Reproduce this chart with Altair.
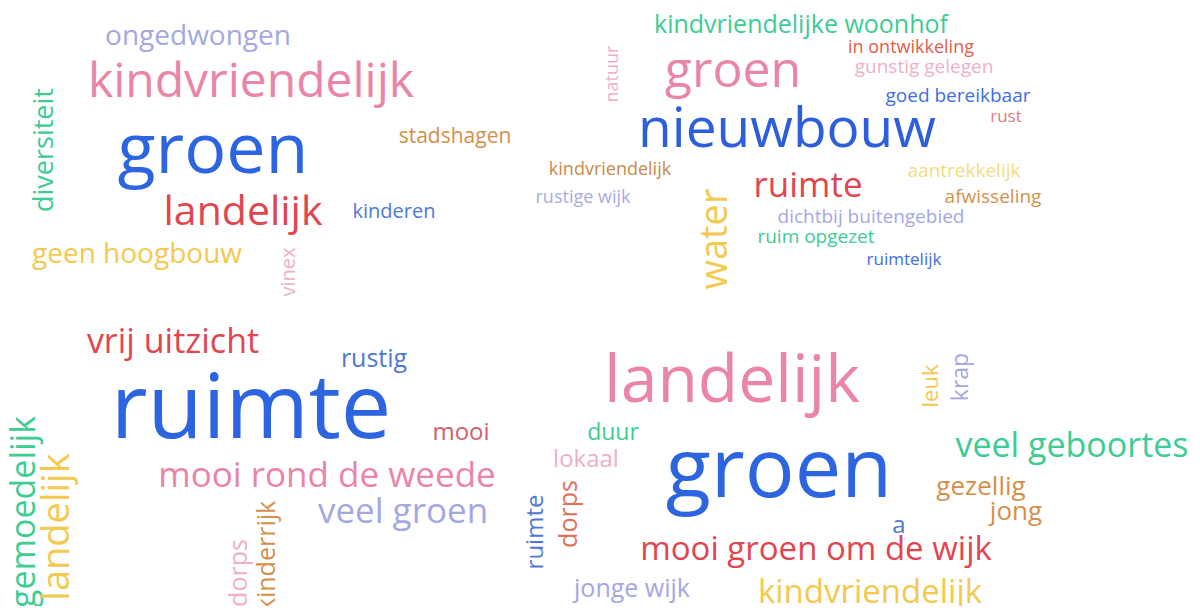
import altair as alt
import pandas as pd

# word cloud entries: text, x centre (px), baseline y (px), font size, angle, colour
words = [
    # top-left cloud
    "ongedwongen", "kindvriendelijk", "groen", "diversiteit", "stadshagen",
    "landelijk", "kinderen", "geen hoogbouw", "vinex",
    # top-right cloud
    "kindvriendelijke woonhof", "in ontwikkeling", "gunstig gelegen", "goed bereikbaar",
    "rust", "natuur", "groen", "nieuwbouw", "kindvriendelijk", "rustige wijk", "ruimte",
    "aantrekkelijk", "afwisseling", "dichtbij buitengebied", "ruim opgezet", "ruimtelijk",
    "water",
    # bottom-left cloud
    "vrij uitzicht", "rustig", "ruimte", "mooi", "mooi rond de weede", "veel groen",
    "gemoedelijk", "landelijk", "dorps", "kinderrijk",
    # bottom-right cloud
    "landelijk", "leuk", "krap", "duur", "lokaal", "groen", "veel geboortes", "gezellig",
    "jong", "a", "ruimte", "dorps", "mooi groen om de wijk", "jonge wijk", "kindvriendelijk",
]
xs = [
    198, 251, 213, 53, 455, 243, 394, 137, 295,
    801, 911, 924, 958, 1006, 618, 733, 787, 610, 583, 808, 964, 993, 871, 816, 904, 727,
    173, 374, 251, 461, 327, 403, 35, 69, 247, 275,
    732, 938, 968, 613, 586, 779, 1072, 981, 1016, 899, 543, 577, 816, 632, 870,
]
ys = [
    45, 97, 173, 150, 143, 225, 218, 263, 272,
    33, 53, 73, 102, 122, 74, 87, 147, 175, 203, 197, 177, 203, 223, 243, 265, 239,
    353, 367, 438, 440, 487, 523, 512, 527, 573, 556,
    402, 386, 377, 440, 467, 497, 457, 495, 520, 533, 532, 514, 560, 597, 603,
]
sizes = [
    28, 48, 70, 27, 21, 41, 20, 28, 20,
    25, 18, 19, 19, 17, 18, 50, 55, 18, 18, 35, 19, 19, 19, 19, 17, 38,
    34, 25, 90, 24, 35, 35, 34, 38, 25, 25,
    66, 22, 23, 23, 24, 83, 34, 26, 26, 24, 24, 25, 33, 25, 33,
]
angles = [
    0, 0, 0, 270, 0, 0, 0, 0, 270,
    0, 0, 0, 0, 0, 270, 0, 0, 0, 0, 0, 0, 0, 0, 0, 0, 270,
    0, 0, 0, 0, 0, 0, 270, 270, 270, 270,
    0, 270, 270, 0, 0, 0, 0, 0, 0, 0, 270, 270, 0, 0, 0,
]
colors = [
    "#a4a8e2", "#ea85a8", "#2d64e0", "#3dcc92", "#d4904a", "#e0464f", "#4f78d6", "#f3c94f", "#eeb0c8",
    "#3dcc92", "#e0604a", "#eeb0c8", "#3f6ee0", "#e07a80", "#eeb0c8", "#ea85a8", "#2d5fdc",
    "#c98a4a", "#a9abe2", "#e0464f", "#f3dc80", "#d4904a", "#a4a8e2", "#3dcc92", "#3f6ee0", "#f3c94f",
    "#e0464f", "#4f78d6", "#2d64e0", "#d0606a", "#ea85a8", "#a4a8e2", "#3dcc92", "#f3c94f", "#eeb0c8", "#d4904a",
    "#ea85a8", "#f3c94f", "#a4a8e2", "#3dcc92", "#eeb0c8", "#2d64e0", "#3dcc92", "#d4904a",
    "#d4904a", "#4f78d6", "#4f78d6", "#e0705a", "#e0464f", "#a4a8e2", "#f3c94f",
]

df = pd.DataFrame({
    "word": words, "x": xs, "y": ys, "size": sizes, "angle": angles, "color": colors,
})

chart = (
    alt.Chart(df)
    .mark_text(font="Open Sans", align="center", baseline="alphabetic")
    .encode(
        x=alt.X("x:Q", scale=alt.Scale(domain=[8, 1192]), axis=None),
        y=alt.Y("y:Q", scale=alt.Scale(domain=[8, 606], reverse=True), axis=None),
        text="word:N",
        size=alt.Size("size:Q", scale=None),
        angle=alt.Angle("angle:Q", scale=None),
        color=alt.Color("color:N", scale=None),
    )
    .properties(
        width=1184,
        height=598,
        padding=0,
        autosize=alt.AutoSizeParams(type="none"),
        background="white",
    )
    .configure_view(stroke=None)
)

chart.save("out.html", embed_options={"renderer": "svg", "actions": False})
